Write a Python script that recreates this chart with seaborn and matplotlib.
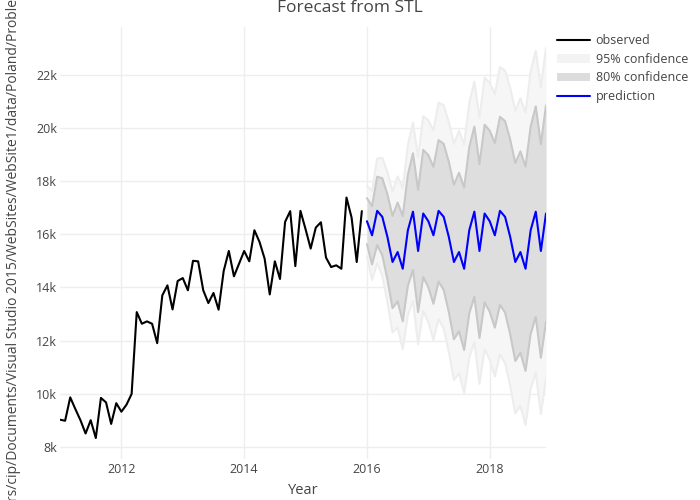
"""
Forecast from STL - observed monthly series with 36-month forecast
and 80% / 95% confidence bands (plotly-like styling).
"""

import numpy as np
import pandas as pd
import matplotlib
matplotlib.use("Agg")
import matplotlib.pyplot as plt
import seaborn as sns
from matplotlib.lines import Line2D
from matplotlib.patches import Patch

# ============================================================================
# DATA
# ============================================================================
OBS_START = 2011          # Jan 2011
FC_START = 2016           # Jan 2016

observed = [
    9020, 8980, 9860, 9420, 9000, 8500, 9000, 8330, 9840, 9670, 8860, 9640,
    9320, 9585, 9990, 13070, 12630, 12720, 12630, 11900, 13700, 14075, 13170, 14240,
    14350, 13890, 15000, 14980, 13890, 13410, 13790, 13160, 14620, 15370, 14415, 14890,
    15370, 14980, 16150, 15710, 15080, 13735, 14980, 14315, 16465, 16870, 14800, 16880,
    16190, 15460, 16250, 16450, 15120, 14765, 14830, 14700, 17380, 16625, 14955, 16870,
]

prediction = [
    16490, 15960, 16880, 16655, 15900, 14955, 15330, 14700, 16150, 16850, 15370, 16780,
    16490, 15960, 16880, 16655, 15900, 14955, 15330, 14700, 16150, 16850, 15370, 16780,
    16490, 15960, 16880, 16655, 15900, 14955, 15330, 14700, 16150, 16850, 15370, 16780,
]

# half widths of the confidence bands around the prediction
half80 = [
    866, 1097, 1287, 1452, 1601, 1736, 1862, 1980, 2091, 2197, 2298, 2394,
    2487, 2577, 2663, 2747, 2828, 2907, 2984, 3059, 3132, 3203, 3273, 3342,
    3409, 3475, 3539, 3603, 3665, 3726, 3787, 3846, 3905, 3962, 4019, 4075,
]
half95 = [
    1324, 1677, 1968, 2220, 2448, 2654, 2847, 3027, 3197, 3359, 3514, 3660,
    3803, 3940, 4072, 4200, 4324, 4445, 4563, 4677, 4789, 4897, 5004, 5110,
    5212, 5313, 5411, 5509, 5604, 5697, 5790, 5881, 5971, 6058, 6145, 6231,
]

Y_TICKS = [8000, 10000, 12000, 14000, 16000, 18000, 20000, 22000]
Y_TICK_LABELS = ["8k", "10k", "12k", "14k", "16k", "18k", "20k", "22k"]
X_TICKS = [2012, 2014, 2016, 2018]

TITLE = "Forecast from STL"
X_LABEL = "Year"
Y_LABEL = "C:/Users/cip/Documents/Visual Studio 2015/WebSites/WebSite1/data/Poland/Problem.csv"

# ============================================================================
# TABLES
# ============================================================================
obs_df = pd.DataFrame({
    "Year": OBS_START + np.arange(len(observed)) / 12,
    "value": observed,
})
fc_df = pd.DataFrame({
    "Year": FC_START + np.arange(len(prediction)) / 12,
    "pred": prediction,
})
fc_df["lo80"] = fc_df["pred"] - np.array(half80)
fc_df["hi80"] = fc_df["pred"] + np.array(half80)
fc_df["lo95"] = fc_df["pred"] - np.array(half95)
fc_df["hi95"] = fc_df["pred"] + np.array(half95)

# ============================================================================
# PLOT
# ============================================================================
sns.set_theme(style="white")
plt.rcParams["font.family"] = ["Open Sans", "DejaVu Sans"]
TXT = "#444444"

fig = plt.figure(figsize=(7, 5), dpi=100)
ax = fig.add_axes([60 / 700, 41 / 500, 486 / 700, 432 / 500])

# 95% band
ax.fill_between(fc_df["Year"], fc_df["lo95"], fc_df["hi95"], color="#f6f6f6", lw=0, zorder=1)
for col in ["hi95", "lo95"]:
    sns.lineplot(data=fc_df, x="Year", y=col, ax=ax, color="#ededed", lw=1.5, zorder=2)

# 80% band
ax.fill_between(fc_df["Year"], fc_df["lo80"], fc_df["hi80"], color="#dedede", lw=0, zorder=3)
for col in ["hi80", "lo80"]:
    sns.lineplot(data=fc_df, x="Year", y=col, ax=ax, color="#c8c8c8", lw=1.5, zorder=4)

sns.lineplot(data=obs_df, x="Year", y="value", ax=ax, color="black", lw=1.5, zorder=5)
sns.lineplot(data=fc_df, x="Year", y="pred", ax=ax, color="#0000ff", lw=1.5, zorder=6)

ax.set_xlim(OBS_START, FC_START + (len(prediction) - 1) / 12)
ax.set_ylim(7540, 23800)
ax.set_xticks(X_TICKS)
ax.set_xticklabels([str(t) for t in X_TICKS])
ax.set_yticks(Y_TICKS)
ax.set_yticklabels(Y_TICK_LABELS)
ax.tick_params(axis="both", length=0, labelsize=9, colors=TXT)
ax.tick_params(axis="x", pad=3)
ax.tick_params(axis="y", pad=2)
ax.grid(True, color="#eeeeee", lw=1)
ax.set_axisbelow(True)
for s in ax.spines.values():
    s.set_visible(False)
ax.set_xlabel("")
ax.set_ylabel("")

fig.text(303 / 700, 1 - 490 / 500, X_LABEL, ha="center", va="center", fontsize=10.5, color=TXT)
# long file path used as y title; like the original it runs past the figure edges
fig.text(14 / 700, 1 - 253 / 500, Y_LABEL, ha="center", va="center", rotation=90,
         fontsize=10.0, color=TXT)
fig.text(350 / 700, 1 - 8 / 500, TITLE, ha="center", va="center", fontsize=12.5, color=TXT)

handles = [
    Line2D([], [], color="black", lw=1.5),
    Patch(facecolor="#f3f3f3", edgecolor="none"),
    Patch(facecolor="#dcdcdc", edgecolor="none"),
    Line2D([], [], color="#0000ff", lw=1.5),
]
labels = ["observed", "95% confidence", "80% confidence", "prediction"]
fig.legend(handles, labels, loc="upper left", bbox_to_anchor=(552 / 700, 1 - 29 / 500),
           frameon=False, fontsize=9, labelcolor=TXT, handlelength=2.6,
           handletextpad=0.5, labelspacing=0.45, borderaxespad=0)

fig.savefig("out.png", dpi=100)
